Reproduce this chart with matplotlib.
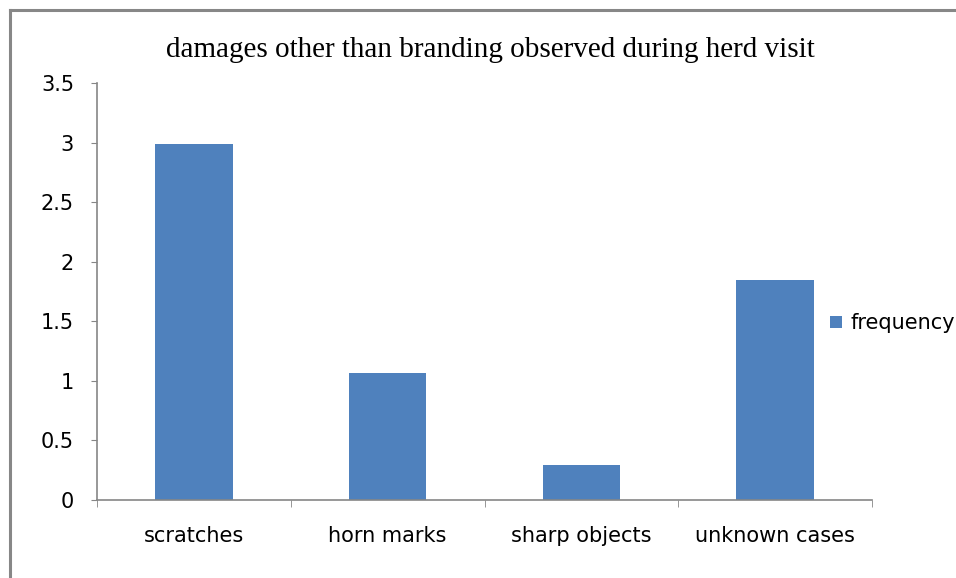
import matplotlib.pyplot as plt
from matplotlib.lines import Line2D
import numpy as np

categories = ['scratches', 'horn marks', 'sharp objects', 'unknown cases']
frequency = [2.99, 1.07, 0.29, 1.85]
yticks = [0, 0.5, 1, 1.5, 2, 2.5, 3, 3.5]
ytick_labels = ['0', '0.5', '1', '1.5', '2', '2.5', '3', '3.5']

W, H = 956, 578
fig = plt.figure(figsize=(W / 100, H / 100), dpi=100)

# outer chart frame: only the top and left edges are visible
fx, fy = 10 / W, 1 - 10 / H
fig.add_artist(Line2D([fx, 1.05], [fy, fy], transform=fig.transFigure,
                      color='#878787', linewidth=2.2))
fig.add_artist(Line2D([fx, fx], [-0.05, fy], transform=fig.transFigure,
                      color='#878787', linewidth=2.2))

ax = fig.add_axes([97 / W, 78 / H, 775 / W, 417 / H])
x = np.arange(len(categories))
ax.bar(x, frequency, width=0.4, color='#4f81bd', label='frequency')

ax.set_xlim(-0.5, len(categories) - 0.5)
ax.set_ylim(0, 3.5)
ax.set_yticks(yticks)
ax.set_yticklabels(ytick_labels)
ax.set_xticks(x)
ax.set_xticklabels(categories)
ax.set_xticks(np.arange(len(categories) + 1) - 0.5, minor=True)

for s in ['top', 'right']:
    ax.spines[s].set_visible(False)
for s in ['left', 'bottom']:
    ax.spines[s].set_color('#868686')
    ax.spines[s].set_linewidth(1.2)

ax.tick_params(axis='y', length=4.5, color='#868686', labelsize=15, pad=12)
ax.tick_params(axis='x', which='major', length=0, labelsize=15, pad=19)
ax.tick_params(axis='x', which='minor', length=5, color='#868686')

fig.text(490 / W, 1 - 50 / H, 'damages other than branding observed during herd visit',
         ha='center', va='center', fontsize=21, family='Liberation Serif')

# legend sits at the right edge and runs off it, as in the original
ax.legend(loc='center left', bbox_to_anchor=(0.922, 0.424), frameon=False,
          handlelength=0.55, handleheight=0.55, handletextpad=0.4,
          prop={'size': 15})

fig.savefig('out.png', dpi=100)
